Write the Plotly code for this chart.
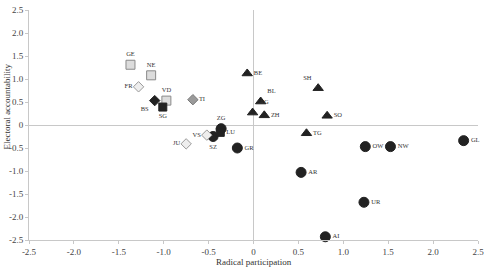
import plotly.graph_objects as go

# ---- data ----
circle_names = ["ZG", "SZ", "GR", "OW", "NW", "GL", "AR", "UR", "AI"]
circle_x = [-0.36, -0.45, -0.18, 1.245, 1.525, 2.34, 0.53, 1.23, 0.80]
circle_y = [-0.08, -0.25, -0.50, -0.47, -0.47, -0.34, -1.03, -1.68, -2.43]

triangle_names = ["BE", "BL", "AG", "ZH", "SH", "SO", "TG"]
triangle_x = [-0.07, 0.08, -0.01, 0.12, 0.72, 0.82, 0.59]
triangle_y = [1.12, 0.51, 0.27, 0.21, 0.80, 0.20, -0.18]

lsquare_names = ["GE", "NE", "VD"]
lsquare_x = [-1.37, -1.14, -0.97]
lsquare_y = [1.31, 1.08, 0.53]

bsquare_names = ["SG", "LU"]
bsquare_x = [-1.01, -0.37]
bsquare_y = [0.39, -0.16]

ldiamond_names = ["FR", "VS", "JU"]
ldiamond_x = [-1.28, -0.52, -0.75]
ldiamond_y = [0.83, -0.22, -0.41]

gdiamond_names = ["TI"]
gdiamond_x = [-0.675]
gdiamond_y = [0.55]

bdiamond_names = ["BS"]
bdiamond_x = [-1.10]
bdiamond_y = [0.53]

x_ticks = [-2.5, -2.0, -1.5, -1.0, -0.5, 0, 0.5, 1.0, 1.5, 2.0, 2.5]
y_ticks = [-2.5, -2.0, -1.5, -1.0, -0.5, 0, 0.5, 1.0, 1.5, 2.0, 2.5]
x_title = "Radical participation"
y_title = "Electoral accountability"

# ---- label placement (style) ----
label_pos = {
    "GE": "top center", "NE": "top center", "FR": "middle left", "BS": "bottom left",
    "VD": "top center", "SG": "bottom center", "TI": "middle right", "ZG": "top center",
    "LU": "middle right", "SZ": "bottom center", "VS": "middle left", "JU": "middle left",
    "GR": "middle right", "BE": "middle right", "BL": "top right", "AG": "top right",
    "ZH": "middle right", "SH": "top left", "SO": "middle right", "TG": "middle right",
    "OW": "middle right", "NW": "middle right", "GL": "middle right", "AR": "middle right",
    "UR": "middle right", "AI": "middle right",
}

label_font = dict(family="Liberation Serif", size=6.5, color="#333333")

groups = [
    (circle_names, circle_x, circle_y, "circle", "#222222", "#222222", 10),
    (triangle_names, triangle_x, triangle_y, "triangle-up", "#222222", "#222222", 9),
    (lsquare_names, lsquare_x, lsquare_y, "square", "#dcdcdc", "#8a8a8a", 9),
    (bsquare_names, bsquare_x, bsquare_y, "square", "#222222", "#222222", 8),
    (ldiamond_names, ldiamond_x, ldiamond_y, "diamond", "#eeeeee", "#999999", 8),
    (gdiamond_names, gdiamond_x, gdiamond_y, "diamond", "#9a9a9a", "#7a7a7a", 8),
    (bdiamond_names, bdiamond_x, bdiamond_y, "diamond", "#222222", "#222222", 8),
]

fig = go.Figure()

# markers first
for names, xs, ys, symbol, fill, line, size in groups:
    fig.add_trace(go.Scatter(
        x=xs, y=ys, mode="markers",
        marker=dict(symbol=symbol, color=fill, size=size,
                    line=dict(color=line, width=1)),
        showlegend=False, cliponaxis=False,
    ))

# labels on top (transparent markers keep the label offsets)
for names, xs, ys, symbol, fill, line, size in groups:
    fig.add_trace(go.Scatter(
        x=xs, y=ys, mode="markers+text", text=names,
        textposition=[label_pos[n] for n in names],
        textfont=label_font,
        marker=dict(symbol=symbol, color="rgba(0,0,0,0)", size=size,
                    line=dict(color="rgba(0,0,0,0)", width=1)),
        showlegend=False, cliponaxis=False, hoverinfo="skip",
    ))

axis_common = dict(
    showgrid=False, zeroline=True, zerolinecolor="#c8c8c8", zerolinewidth=1,
    showline=True, linecolor="#c8c8c8", linewidth=1,
    ticks="outside", ticklen=3, tickcolor="#c8c8c8",
    tickfont=dict(family="Liberation Serif", size=9, color="#444444"),
)

fig.update_layout(
    width=489, height=268,
    margin=dict(l=29, r=7, t=5, b=28),
    paper_bgcolor="white", plot_bgcolor="white",
    xaxis=dict(range=[-2.5, 2.5], tickvals=x_ticks,
               ticktext=["0" if v == 0 else f"{v:.1f}" for v in x_ticks],
               **axis_common),
    yaxis=dict(range=[-2.5, 2.5], tickvals=y_ticks,
               ticktext=["0" if v == 0 else f"{v:.1f}" for v in y_ticks],
               **axis_common),
    annotations=[
        dict(text=x_title, xref="paper", yref="paper", x=0.5, y=0, yshift=-22,
             showarrow=False, yanchor="middle",
             font=dict(family="Liberation Serif", size=9, color="#333333")),
        dict(text=y_title, xref="paper", yref="paper", x=0, y=0.58, xshift=-22,
             showarrow=False, textangle=-90, xanchor="center",
             font=dict(family="Liberation Serif", size=9, color="#333333")),
    ],
)

fig.write_html("out.html")
